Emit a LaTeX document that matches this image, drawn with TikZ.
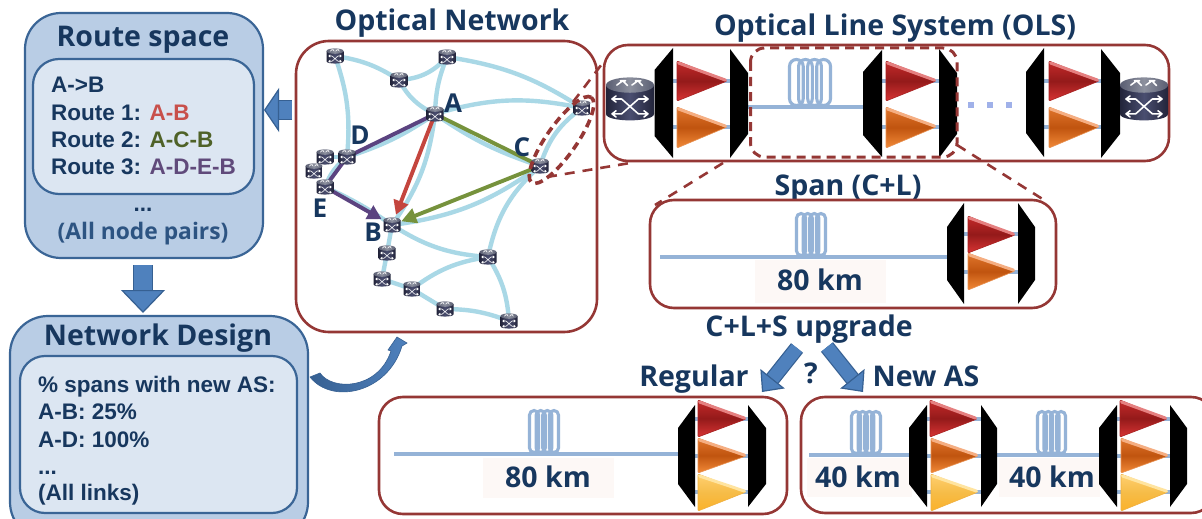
\documentclass[tikz,border=0pt]{standalone}
\usepackage{fontspec}
\setmainfont{Open Sans}
\newfontfamily\arialf{Liberation Sans}
\usetikzlibrary{arrows.meta,calc,shapes.geometric}
\definecolor{navy}{HTML}{17375E}
\definecolor{boxred}{HTML}{953735}
\definecolor{panelo}{HTML}{B9CDE5}
\definecolor{paneli}{HTML}{DCE6F2}
\definecolor{paneledge}{HTML}{3A6596}
\definecolor{arrowfill}{HTML}{4F81BD}
\definecolor{arrowedge}{HTML}{366092}
\definecolor{linkblue}{HTML}{A9D8E6}
\definecolor{fibre}{HTML}{95B3D7}
\definecolor{kmbg}{HTML}{FDF8F6}
\definecolor{rtred}{HTML}{C8504B}
\definecolor{rtgreen}{HTML}{4F6228}
\definecolor{rtpurple}{HTML}{604A7B}
\definecolor{lnred}{HTML}{C4453E}
\definecolor{lngreen}{HTML}{76923C}
\definecolor{lnpurple}{HTML}{5B4380}
\definecolor{routerdark}{HTML}{22243A}
\definecolor{routermid}{HTML}{4A4E70}
\definecolor{routertopd}{HTML}{5A5E72}
\definecolor{routertopl}{HTML}{8C909E}
\definecolor{rtop}{HTML}{C42A2A}\definecolor{rmid}{HTML}{941A1A}\definecolor{rbot}{HTML}{D83434}\definecolor{rlight}{HTML}{E58080}\definecolor{redge}{HTML}{A82020}
\definecolor{otop}{HTML}{E0752C}\definecolor{omid}{HTML}{C0540F}\definecolor{obot}{HTML}{F28A38}\definecolor{olight}{HTML}{F5AE82}\definecolor{oedge}{HTML}{E89050}
\definecolor{ytop}{HTML}{FFD070}\definecolor{ymid}{HTML}{F6BC48}\definecolor{ybot}{HTML}{FBB22A}\definecolor{ylight}{HTML}{FFE4A0}\definecolor{yedge}{HTML}{F0B040}
\tikzset{
  x=1pt,y=-1pt,
  ttl/.style={font=\fontsize{28.5}{28.5}\selectfont\bfseries,text=navy,inner sep=0pt,anchor=base},
  lbl/.style={font=\fontsize{28.5}{28.5}\selectfont\bfseries,text=navy,inner sep=0pt,anchor=base},
  km/.style={font=\fontsize{28.5}{28.5}\selectfont\bfseries,text=navy,inner sep=0pt,anchor=base},
  letter/.style={font=\fontsize{26}{26}\selectfont\bfseries,text=navy,inner sep=0pt},
  body/.style={font=\arialf\fontsize{22.5}{22.5}\selectfont\bfseries,text=navy,inner sep=0pt,anchor=base west},
  panelout/.style={draw=paneledge,fill=panelo,line width=2.2pt},
  panelin/.style={draw=paneledge,fill=paneli,line width=2.2pt},
  redbox/.style={draw=boxred,line width=2.6pt,rounded corners=24pt},
  reddash/.style={draw=boxred,line width=2.6pt,dash pattern=on 10pt off 8pt},
  rectdash/.style={draw=boxred,line width=3pt,dash pattern=on 9pt off 6pt},
  link/.style={draw=linkblue,line width=4.4pt},
  route/.style={line width=3.9pt},
  fibreline/.style={draw=fibre,line width=3.4pt},
  blockarrow/.style n args={3}{double=arrowfill,double distance=#1,line width=1.2pt,draw=arrowedge,
     -{Triangle[length=#2,width=#3,fill=arrowfill,color=arrowedge,line width=1.2pt]}},
}
\newcommand{\router}[2]{%
  \begin{scope}[shift={(#1)},x=#2 pt,y=-#2 pt]
    \pgfmathsetmacro{\rlw}{0.065*#2}
    \shade[left color=routerdark,right color=routerdark,middle color=routermid]
      (-1,-.58) -- (-1,.62) .. controls (-1,.98) and (1,.98) .. (1,.62) -- (1,-.58) -- cycle;
    \shade[left color=routertopd,right color=routertopd,middle color=routertopl] (0,-.58) ellipse (1 and .32);
    \draw[white,line width=\rlw pt,line join=round,line cap=round]
      (-.75,0) -- (-.35,0) -- (.35,.62) -- (.75,.62)
      (-.75,.62) -- (-.35,.62) -- (.35,0) -- (.75,0)
      (-.58,-.13) -- (-.75,0) -- (-.58,.13) (.58,-.13) -- (.75,0) -- (.58,.13)
      (-.58,.49) -- (-.75,.62) -- (-.58,.75) (.58,.49) -- (.75,.62) -- (.58,.75);
    \draw[white,line width=\rlw pt,line join=round,line cap=round]
      (-.55,-.58) -- (-.3,-.76) -- (-.1,-.56) (-.4,-.76) -- (-.18,-.76)
      (.08,-.58) -- (.33,-.76) -- (.52,-.56) (.22,-.76) -- (.45,-.76);
  \end{scope}}
\newcommand{\mux}[5]{\fill[black] (#1,#3) -- (#2,#3+#5) -- (#2,#4-#5) -- (#1,#4) -- cycle;}
\newcommand{\ampl}[6]{%
  \shade[top color=#1top,bottom color=#1bot,middle color=#1mid,draw=#1edge,line width=.6pt,rounded corners=1pt] (#2,#3) -- (#5,#6) -- (#2,#4) -- cycle;
  \draw[#1light,line width=3pt,line cap=round] (#2+1.5,#3+2) -- (#5-1.5,#6-.9);}
\newcommand{\coil}[4]{%
  \pgfmathsetmacro{\cw}{(#2-#1)*0.19}
  \pgfmathsetmacro{\cst}{(#2-#1-2*\cw)/3}
  \foreach \ci in {0,1,2,3}{
    \pgfmathsetmacro{\ccx}{#1+\cw+\ci*\cst}
    \pgfmathsetmacro{\crr}{\cw-1.5}
    \draw[fibre,line width=3.1pt,rounded corners=\crr pt] (\ccx-\crr,#3+1.5) rectangle (\ccx+\crr,#4-1.5);
  }}
\begin{document}
\begin{tikzpicture}
\useasboundingbox (0,0) rectangle (1202,519);
\fill[white] (0,0) rectangle (1202,519);

\begin{scope}
\clip (0,0) rectangle (1202,519);
\draw[panelout,rounded corners=36pt] (25,13) rectangle (263,258);
\draw[panelin,rounded corners=26pt] (33,59) rectangle (254,194);
\draw[panelout,rounded corners=38pt] (10,316) rectangle (308,540);
\draw[panelin,rounded corners=25pt] (20,356) rectangle (297,513);
\end{scope}
\node[ttl] (t1) at (143,47) {Route space};
\node[body] (rA) at (51,92.5) {A->B};
\node[body] (r1) at (51,120) {Route 1: \textcolor{rtred}{A-B}};
\node[body] (r2) at (51,147.5) {Route 2: \textcolor{rtgreen}{A-C-B}};
\node[body] (r3) at (51,174.5) {Route 3: \textcolor{rtpurple}{A-D-E-B}};
\node[body,anchor=base] (rd) at (143,211) {...};
\node[font=\fontsize{22.8}{22.8}\selectfont\bfseries,text=arrowedge!70!navy,inner sep=0pt,anchor=base] (rall) at (143,239) {(All node pairs)};
\node[ttl] (t2) at (158,345) {Network Design};
\node[body] (n1) at (38,392) {\% spans with new AS:};
\node[body] (n2) at (38,419) {A-B: 25\%};
\node[body] (n3) at (38,447) {A-D: 100\%};
\node[body] (n4) at (38,474) {...};
\node[body] (n5) at (38,500) {(All links)};

\coordinate (la0) at (292,110); \coordinate (la1) at (264,110);
\coordinate (da0) at (143,265); \coordinate (da1) at (143,313);
\coordinate (ra0) at (797,348); \coordinate (ra1) at (762,392);
\coordinate (rb0) at (827,347); \coordinate (rb1) at (863,392);
\draw[blockarrow={18pt}{15pt}{44pt}] (la0) -- (la1);
\draw[blockarrow={18pt}{23pt}{44pt}] (da0) -- (da1);
\draw[blockarrow={13pt}{17pt}{31pt}] (ra0) -- (ra1);
\draw[blockarrow={13pt}{17pt}{31pt}] (rb0) -- (rb1);
\shade[left color=arrowedge,right color=arrowfill,draw=arrowedge,line width=.6pt]
  (310,377) -- (320,373) .. controls (332,391) and (378,390) .. (391,351) -- (388,350) -- (397,337) -- (407,343) -- (402,346)
  .. controls (388,393) and (332,405) .. cycle;

\node[ttl] (t3) at (452,31) {Optical Network};
\draw[redbox,rounded corners=33pt] (296,41) rectangle (597,332);
\coordinate (r1c) at (335,56);
\coordinate (r2c) at (399,80);
\coordinate (r3c) at (447,57);
\coordinate (A) at (435,114);
\coordinate (r5c) at (582,108);
\coordinate (C) at (540,166);
\coordinate (D) at (347,157);
\coordinate (r8c) at (325,157);
\coordinate (r9c) at (314,171);
\coordinate (E) at (325,187);
\coordinate (B) at (392,225);
\coordinate (r12) at (387,253);
\coordinate (r13) at (382,279);
\coordinate (r14) at (412,289);
\coordinate (r15) at (488,257);
\coordinate (r16) at (445,309);
\coordinate (r17) at (509,321);
\draw[link] (r1c) to[bend left=12] (r2c);
\draw[link] (r2c) to[bend right=22] (r3c);
\draw[link] (r2c) to[bend right=18] (A);
\draw[link] (r3c) to[bend right=10] (A);
\draw[link] (r3c) to[bend left=12] (r5c);
\draw[link] (A) to[bend left=14] (r5c);
\draw[link] (r1c) to[bend left=12] (D);
\draw[link] (A) to[bend left=8] (D);
\draw[link] (D) -- (r8c);
\draw[link] (D) to[bend right=15] (E);
\draw[link] (E) to[bend left=5] (B);
\draw[link] (A) to[bend left=14] (B);
\draw[link] (A) to[bend right=8] (C);
\draw[link] (C) to[bend left=14] (B);
\draw[link] (r5c) to[bend right=18] (C);
\draw[link] (C) to[bend right=18] (r15);
\draw[link] (B) to[bend right=14] (r15);
\draw[link] (B) -- (r12);
\draw[link] (r12) -- (r13);
\draw[link] (r13) -- (r14);
\draw[link] (r14) to[bend left=14] (r15);
\draw[link] (r14) -- (r16);
\draw[link] (r16) to[bend left=10] (r17);
\draw[link] (r15) to[bend left=14] (r17);
\draw[route,draw=lnpurple] (A) -- (D) -- (E);
\draw[route,draw=lnpurple,-{Triangle[length=14pt,width=15pt]},shorten >=12pt] (E) -- (B);
\draw[route,draw=lngreen] (A) -- (C);
\draw[route,draw=lngreen,-{Triangle[length=15pt,width=15pt]},shorten >=10pt] (C) -- (B);
\draw[route,draw=lnred,-{Triangle[length=14pt,width=15pt]},shorten >=11pt] (A) -- (B);
\foreach \rr in {r1c,r2c,r3c,A,r5c,C,r8c,r9c,E,D,B,r12,r13,r14,r15,r16,r17}{\router{\rr}{8.5}}
\node[letter] (la) at (453,103) {A};
\node[letter] (lb) at (373,232) {B};
\node[letter] (lc) at (522,147) {C};
\node[letter] (ld) at (360,135) {D};
\node[letter] (le) at (320,208) {E};

\node[ttl] (t4) at (895,36) {Optical Line System (OLS)};
\draw[redbox] (604,45) rectangle (1169,161);
\coordinate (fa) at (748,107); \coordinate (fb) at (863,107);
\draw[fibreline] (fa) -- (fb);
\coil{788}{832}{58}{107}
\foreach \yy in {81,127}{
  \draw[fibreline] (673,\yy) -- (730,\yy);
  \draw[fibreline] (882,\yy) -- (939,\yy);
  \draw[fibreline] (1044,\yy) -- (1101,\yy);
}
\mux{673}{654.5}{48}{158}{22}
\mux{730}{748}{49}{158}{24}
\mux{882}{863}{50}{157}{22}
\mux{939}{957}{49}{158}{24}
\mux{1044}{1026}{48}{157}{24}
\mux{1101}{1120}{49}{158}{24}
\ampl{r}{677}{61}{101}{727}{81}
\ampl{o}{677}{107}{148}{727}{127}
\ampl{r}{886}{61}{101}{936}{81}
\ampl{o}{886}{107}{148}{936}{127}
\ampl{r}{1049}{61}{101}{1099}{81}
\ampl{o}{1049}{107}{148}{1099}{127}
\router{630,99}{24}
\router{1144,99}{24}
\foreach \xx in {971,990,1009}{\fill[fibre!80!blue!70!white] (\xx-2.7,102) rectangle (\xx+2.7,108);}

\node[ellipse,draw=boxred,line width=3.6pt,dash pattern=on 8pt off 5pt,rotate=55,minimum width=104pt,minimum height=30pt,inner sep=0pt] (ell) at (561.5,140) {};
\coordinate (d1a) at (573,102); \coordinate (d1b) at (605,60);
\coordinate (d2a) at (547,177); \coordinate (d2b) at (630,163);
\draw[reddash] (d1a) -- (d1b);
\draw[reddash] (d2a) -- (d2b);
\draw[rectdash,rounded corners=14pt] (750.5,48) rectangle (957,157);
\coordinate (d3a) at (723,163); \coordinate (d3b) at (655,205);
\coordinate (d4a) at (957,145); \coordinate (d4b) at (1044,200);
\draw[reddash] (d3a) -- (d3b);
\draw[reddash] (d4a) -- (d4b);

\node[ttl] (t5) at (848,195) {Span (C+L)};
\draw[redbox,fill=white] (650,200) rectangle (1056,308);
\fill[kmbg] (755,260) rectangle (886,303);
\coordinate (sa) at (660,257); \coordinate (sb) at (947,257);
\draw[fibreline] (sa) -- (sb);
\coil{795}{827}{212}{257}
\foreach \yy in {234,272}{\draw[fibreline] (964,\yy) -- (1018,\yy);}
\mux{964}{947}{203}{304}{24}
\mux{1018}{1035}{203}{304}{24}
\ampl{r}{968}{216}{253}{1015}{235}
\ampl{o}{968}{253}{290}{1015}{271}
\node[km] (k1) at (820,290) {80 km};

\node[lbl] (t6) at (809,336) {C+L+S upgrade};
\node[lbl] (t7) at (694,386) {Regular};
\node[lbl] (t8) at (926,386) {New AS};
\node[lbl] (t9) at (811,383) {?};

\draw[redbox] (379,397) rectangle (787,514);
\fill[kmbg] (483,458) rectangle (614,498);
\coordinate (ga) at (394,454); \coordinate (gb) at (678,454);
\draw[fibreline] (ga) -- (gb);
\coil{528}{560}{409}{454}
\foreach \yy in {419,456,492}{\draw[fibreline] (695,\yy) -- (748,\yy);}
\mux{695}{678}{405}{507}{23}
\mux{748}{766}{405}{507}{23}
\ampl{r}{698}{400}{437}{746}{419}
\ampl{o}{698}{438}{473}{746}{456}
\ampl{y}{698}{474}{511}{746}{492}
\node[km] (k2) at (548,487) {80 km};

\draw[redbox] (801,397) -- (1215,397) -- (1215,513) -- (801,513) -- cycle;
\fill[kmbg] (807,458) rectangle (912,497);
\fill[kmbg] (999,458) rectangle (1100,497);
\coordinate (ha) at (809,455); \coordinate (hb) at (909,455);
\coordinate (ia) at (997,455); \coordinate (ib) at (1099,455);
\draw[fibreline] (ha) -- (hb);
\draw[fibreline] (ia) -- (ib);
\coil{850}{882}{410}{455}
\coil{1036}{1067}{410}{455}
\foreach \yy in {419,456,492}{
  \draw[fibreline] (927,\yy) -- (981,\yy);
  \draw[fibreline] (1117,\yy) -- (1170,\yy);}
\mux{927}{909}{405}{507}{23}
\mux{981}{997}{405}{507}{23}
\mux{1117}{1099}{405}{507}{23}
\mux{1170}{1187}{405}{507}{23}
\ampl{r}{930}{400}{437}{977}{419}
\ampl{o}{931}{438}{473}{978}{456}
\ampl{y}{931}{474}{511}{978}{492}
\ampl{r}{1120}{400}{437}{1167}{419}
\ampl{o}{1121}{438}{473}{1168}{456}
\ampl{y}{1121}{474}{511}{1168}{492}
\node[km] (k3) at (858,487) {40 km};
\node[km] (k4) at (1052,487) {40 km};
\end{tikzpicture}
\end{document}
